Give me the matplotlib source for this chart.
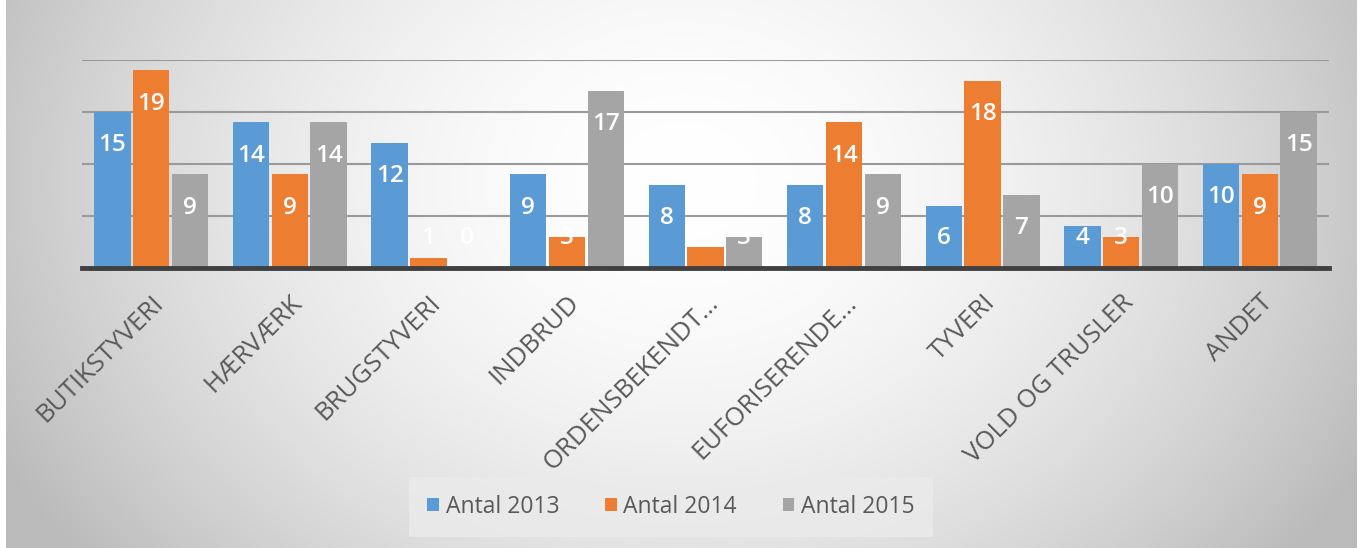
import numpy as np
import matplotlib
matplotlib.use("Agg")
import matplotlib.pyplot as plt
from matplotlib.patches import Patch

categories = ["BUTIKSTYVERI", "HÆRVÆRK", "BRUGSTYVERI", "INDBRUD", "ORDENSBEKENDT...",
              "EUFORISERENDE...", "TYVERI", "VOLD OG TRUSLER", "ANDET"]
series_names = ["Antal 2013", "Antal 2014", "Antal 2015"]
antal_2013 = [15, 14, 12, 9, 8, 8, 6, 4, 10]
antal_2014 = [19, 9, 1, 3, 2, 14, 18, 3, 9]
antal_2015 = [9, 14, 0, 17, 3, 9, 7, 10, 15]
colors = ["#5B9BD5", "#ED7D31", "#A5A5A5"]

plt.rcParams['font.family'] = ['Open Sans', 'DejaVu Sans']

W, H = 1365, 548
fig = plt.figure(figsize=(W / 100, H / 100), dpi=100)
fig.patch.set_facecolor("white")

# radial gradient background
bg = fig.add_axes([6 / W, 0, (1357 - 6) / W, 1], zorder=0)
yy, xx = np.mgrid[0:H, 0:1351]
dx = (xx - 677) / 700.0
dy = (yy - 180) / 560.0
r = np.sqrt(dx ** 2 + dy ** 2)
val = 255 - 58 * np.clip(r, 0, 1.1) ** 1.8
img = np.dstack([val, val, val]) / 255.0
bg.imshow(img, aspect='auto', extent=[0, 1, 0, 1], interpolation='bilinear')
bg.axis('off')

left, right = 82 / W, 1329 / W
top, bottom = 1 - 60 / H, 1 - 268 / H
ax = fig.add_axes([left, bottom, right - left, top - bottom], zorder=1)
ax.patch.set_alpha(0)

x = np.arange(len(categories))
bw = 0.262
data = [antal_2013, antal_2014, antal_2015]
for i, (vals, c) in enumerate(zip(data, colors)):
    pos = x + (i - 1) * (bw + 0.018)
    ax.bar(pos, vals, width=bw, color=c, zorder=3)
    for p, v in zip(pos, vals):
        ly = max(v - 3.2, 2.9)
        ax.text(p, ly, str(v), ha='center', va='center', color='white',
                fontsize=17.5, fontweight='semibold', zorder=4)

ax.set_xlim(-0.5, len(categories) - 0.5)
ax.set_ylim(0, 20)
ax.set_yticks([5, 10, 15, 20])
ax.yaxis.grid(True, color='#9a9a9a', linewidth=1.5, zorder=1)
ax.tick_params(axis='y', length=0, labelleft=False)
for s in ['top', 'right', 'left']:
    ax.spines[s].set_visible(False)
ax.spines['bottom'].set_color('#404040')
ax.spines['bottom'].set_linewidth(3.5)
ax.spines['bottom'].set_zorder(5)

ax.set_xticks(x)
ax.set_xticklabels(categories, rotation=45, ha='right', rotation_mode='anchor',
                   fontsize=18.5, color='#595959')
ax.tick_params(axis='x', length=0, pad=16)

handles = [Patch(facecolor=c, edgecolor='none') for c in colors]
leg = fig.legend(handles, series_names, loc='center', bbox_to_anchor=(671 / W, 1 - 507 / H),
                 ncol=3, frameon=True, fontsize=16.5, handlelength=0.5, handleheight=0.5,
                 handletextpad=0.3, columnspacing=2.0, borderpad=0.8, fancybox=False)
leg.get_frame().set_facecolor('#ebebeb')
leg.get_frame().set_edgecolor('none')
for t in leg.get_texts():
    t.set_color('#595959')

fig.savefig("out.png", dpi=100)
